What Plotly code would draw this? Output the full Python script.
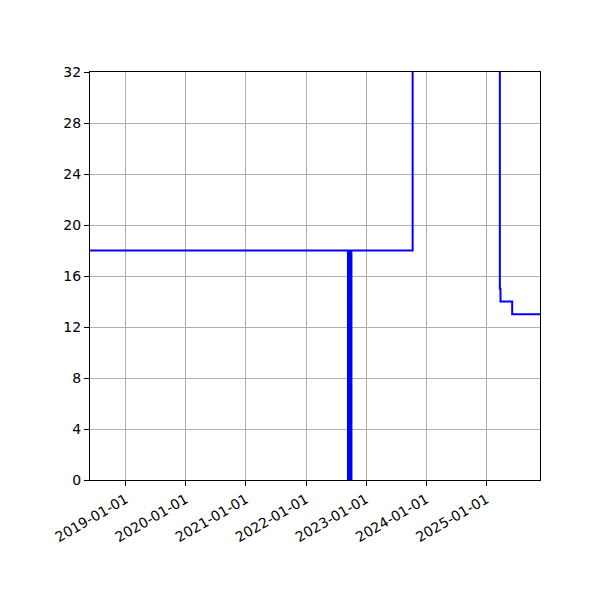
import plotly.graph_objects as go

# step series: value holds until the next date
dates = ["2018-05-29", "2022-09-13", "2022-09-15", "2022-09-17", "2022-09-19",
         "2022-09-21", "2022-09-23", "2022-09-25", "2022-09-27", "2022-09-29",
         "2022-10-01", "2022-10-03", "2022-10-04", "2023-10-11", "2025-03-24",
         "2025-03-28", "2025-06-07", "2025-11-23"]
values = [18, 0, 18, 0, 18, 0, 18, 0, 18, 0, 18, 0, 18, 40, 15, 14, 13, 13]

yticks = [0, 4, 8, 12, 16, 20, 24, 28, 32]
xticks = ["2019-01-01", "2020-01-01", "2021-01-01", "2022-01-01",
          "2023-01-01", "2024-01-01", "2025-01-01"]

fig = go.Figure()
fig.add_trace(go.Scatter(x=dates, y=values, mode="lines", line_shape="hv",
                         line=dict(color="#0000ff", width=2), showlegend=False))

# page body has an 8px margin, so the margins are shifted by that
fig.update_layout(
    width=600, height=600,
    margin=dict(l=82, r=68, t=64, b=128),
    plot_bgcolor="white", paper_bgcolor="white",
    font=dict(family="DejaVu Sans", size=14, color="black"),
)
fig.update_xaxes(
    range=["2018-05-29", "2025-11-23"],
    tickvals=xticks, ticktext=xticks, tickangle=-30,
    showgrid=True, gridcolor="#b0b0b0", gridwidth=1,
    showline=True, linecolor="black", linewidth=1, mirror=True,
    ticks="outside", ticklen=5, tickcolor="black", zeroline=False,
)
fig.update_yaxes(
    range=[0, 32], tickvals=yticks,
    showgrid=True, gridcolor="#b0b0b0", gridwidth=1,
    showline=True, linecolor="black", linewidth=1, mirror=True,
    ticks="outside", ticklen=5, tickcolor="black", zeroline=False,
)

fig.write_html("out.html")
